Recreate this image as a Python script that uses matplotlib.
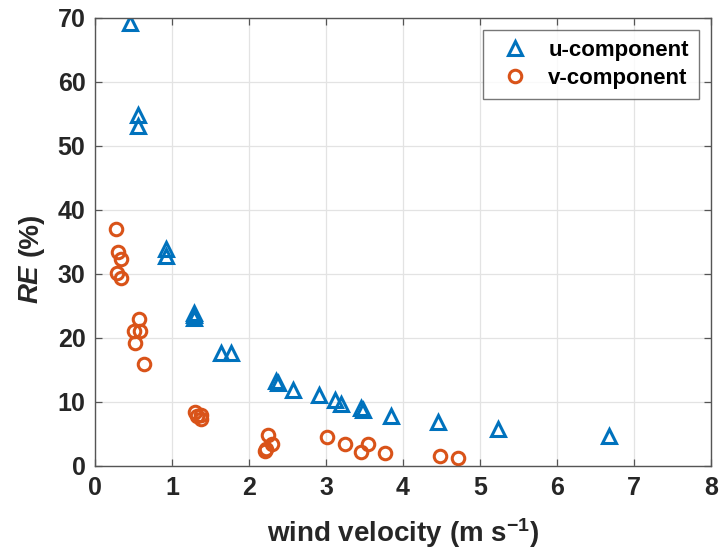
import matplotlib
matplotlib.use("Agg")
import matplotlib.pyplot as plt

u_x = [0.45, 0.55, 0.55, 0.92, 0.92, 1.28, 1.29, 1.28, 1.64, 1.77, 2.35, 2.37, 2.57, 2.91, 3.12, 3.20, 3.46, 3.48, 3.85, 4.46, 5.24, 6.68]
u_y = [69.2, 54.8, 53.1, 33.9, 32.8, 23.9, 23.5, 23.1, 17.6, 17.6, 13.3, 12.9, 11.9, 11.1, 10.3, 9.7, 9.0, 8.7, 7.8, 6.8, 5.8, 4.7]

v_x = [0.27, 0.30, 0.34, 0.29, 0.34, 0.57, 0.50, 0.58, 0.52, 0.63, 1.30, 1.32, 1.38, 1.38, 2.25, 2.30, 2.21, 2.22, 3.01, 3.24, 3.45, 3.54, 3.77, 4.48, 4.72]
v_y = [37.0, 33.4, 32.3, 30.1, 29.4, 22.9, 21.1, 21.0, 19.2, 15.9, 8.4, 7.8, 8.0, 7.3, 4.9, 3.5, 2.3, 2.7, 4.5, 3.5, 2.2, 3.4, 2.0, 1.6, 1.2]

plt.rcParams['font.family'] = ['Liberation Sans', 'DejaVu Sans']
plt.rcParams['mathtext.fontset'] = 'custom'
plt.rcParams['mathtext.bf'] = 'Liberation Sans:bold'
plt.rcParams['mathtext.rm'] = 'Liberation Sans'
plt.rcParams['mathtext.it'] = 'Liberation Sans:italic'

fig = plt.figure(figsize=(7.21, 5.56), dpi=100)
ax = fig.add_axes([0.132, 0.162, 0.854, 0.806])

blue = '#0072BD'
orange = '#D95319'
ax.plot(u_x, u_y, linestyle='none', marker='^', markersize=10, markerfacecolor='none',
        markeredgecolor=blue, markeredgewidth=2.2, label='u-component')
ax.plot(v_x, v_y, linestyle='none', marker='o', markersize=9, markerfacecolor='none',
        markeredgecolor=orange, markeredgewidth=2.2, label='v-component')

ax.set_xlim(0, 8)
ax.set_ylim(0, 70)
ax.set_xticks(range(0, 9))
ax.set_yticks(range(0, 71, 10))
ax.grid(True, color='#e3e3e3', linewidth=0.9)
ax.set_axisbelow(True)
for s in ax.spines.values():
    s.set_color('#555555')
    s.set_linewidth(1.0)
ax.tick_params(direction='in', top=True, right=True, length=5, width=0.9, color='#555555',
               labelsize=18, pad=7)
for lab in ax.get_xticklabels() + ax.get_yticklabels():
    lab.set_fontweight('bold')
    lab.set_color('#262626')

ax.set_xlabel(r'$\mathbf{wind\ velocity\ (m\ s}^{\mathbf{-1}}\mathbf{)}$', fontsize=20,
              color='#262626', labelpad=12)
fig.text(0.042, 0.578, '(%)', rotation=90, fontsize=20, fontweight='bold', color='#262626', va='center', ha='center')
fig.text(0.042, 0.49, 'RE', rotation=90, fontsize=20, fontweight='bold', fontstyle='italic', color='#262626', va='center', ha='center')

leg = ax.legend(loc='upper right', prop={'weight': 'bold', 'size': 16},
                frameon=True, fancybox=False, edgecolor='#555555', handletextpad=0.5,
                borderpad=0.45, labelspacing=0.3, borderaxespad=0.55, handlelength=2.0)
leg.get_frame().set_linewidth(1.0)
for t in leg.get_texts():
    t.set_color('#000000')

fig.savefig('out.png', dpi=100)
